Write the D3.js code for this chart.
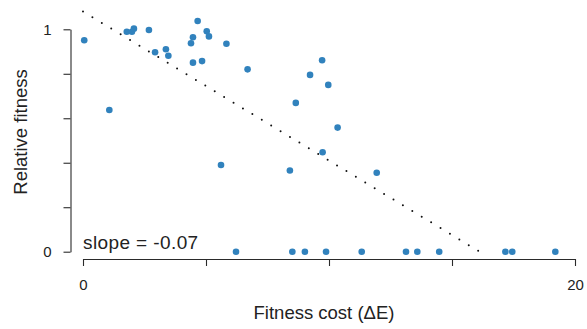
<!DOCTYPE html>
<html>
<head>
<meta charset="utf-8">
<script src="https://cdn.jsdelivr.net/npm/d3@7"></script>
<style>
  html, body { margin: 0; padding: 0; background: #fff; }
  svg { display: block; font-family: "Liberation Sans", Arial, Helvetica, sans-serif; }
</style>
</head>
<body>
<svg id="chart" width="587" height="329"></svg>
<script>
// Fitness cost (ΔE) of each variant and its measured relative fitness
const fitnessCost = [
  0.05, 1.07, 1.78, 1.99, 2.07, 2.68, 2.93, 3.37, 3.47, 4.39,
  4.47, 4.66, 5.03, 5.12, 4.47, 4.84, 5.83, 6.69, 8.65, 5.61,
  8.41, 9.72, 9.23, 9.97, 10.35, 9.74, 11.94,
  6.22, 8.51, 9.02, 9.88, 11.33, 13.13, 13.59, 14.48, 17.17, 17.45, 19.20
];
const relativeFitness = [
  0.951, 0.637, 0.989, 0.989, 1.003, 0.997, 0.897, 0.910, 0.881, 0.937,
  0.964, 1.037, 0.991, 0.968, 0.850, 0.857, 0.935, 0.820, 0.669, 0.390,
  0.365, 0.861, 0.795, 0.750, 0.558, 0.447, 0.355,
  0, 0, 0, 0, 0, 0, 0, 0, 0, 0, 0
];

// Linear fit drawn as a dotted line
const fitIntercept = 1.08;
const fitSlope = -0.067;
const fitRange = [0, 16.4];

// Axis ticks
const xTicks = [0, 5, 10, 15, 20];
const xTickLabels = ["0", "", "", "", "20"];
const yTicks = [0, 0.2, 0.4, 0.6, 0.8, 1];
const yTickLabels = ["0", "", "", "", "", "1"];

const svg = d3.select("#chart");

const x = d3.scaleLinear().domain([0, 20]).range([83, 575]);
const y = d3.scaleLinear().domain([0, 1]).range([251.7, 29.3]);

const axisColor = "#2a2a2a";

// x axis, detached below the plotting region
const xAxisG = svg.append("g")
  .attr("transform", "translate(0,259)")
  .call(d3.axisBottom(x)
    .tickValues(xTicks)
    .tickFormat((d, i) => xTickLabels[i])
    .tickSize(7)
    .tickSizeOuter(0)
    .tickPadding(13));

// y axis, detached left of the plotting region
const yAxisG = svg.append("g")
  .attr("transform", "translate(70.5,0)")
  .call(d3.axisLeft(y)
    .tickValues(yTicks)
    .tickFormat((d, i) => yTickLabels[i])
    .tickSize(7)
    .tickSizeOuter(0)
    .tickPadding(12));

[xAxisG, yAxisG].forEach(g => {
  g.select(".domain").attr("stroke", axisColor).attr("stroke-width", 1.1);
  g.selectAll(".tick line").attr("stroke", axisColor).attr("stroke-width", 1.1);
  g.selectAll(".tick text")
    .attr("fill", "#222")
    .style("font-size", "15px")
    .style("font-family", "\"Liberation Sans\", Arial, sans-serif");
});

// fitted trend line
const fitLine = d3.line()
  .x(d => x(d))
  .y(d => y(fitIntercept + fitSlope * d));

svg.append("path")
  .datum(fitRange)
  .attr("d", fitLine)
  .attr("fill", "none")
  .attr("stroke", "#111")
  .attr("stroke-width", 2)
  .attr("stroke-linecap", "round")
  .attr("stroke-dasharray", "0,11");

// data points
const points = fitnessCost.map((c, i) => ({ c, f: relativeFitness[i] }));
svg.append("g")
  .selectAll("circle")
  .data(points)
  .join("circle")
  .attr("cx", d => x(d.c))
  .attr("cy", d => y(d.f))
  .attr("r", 3.3)
  .attr("fill", "#3182bd");

// slope annotation
svg.append("text")
  .attr("x", 83)
  .attr("y", 249.3)
  .attr("fill", "#222")
  .style("font-size", "19px")
  .style("letter-spacing", "0.4px")
  .text("slope = " + fitSlope.toFixed(2));

// axis titles
svg.append("text")
  .attr("x", 324)
  .attr("y", 319)
  .attr("text-anchor", "middle")
  .attr("fill", "#222")
  .style("font-size", "18.5px")
  .text("Fitness cost (ΔE)");

svg.append("text")
  .attr("transform", "translate(27,132) rotate(-90)")
  .attr("text-anchor", "middle")
  .attr("fill", "#222")
  .style("font-size", "18.5px")
  .text("Relative fitness");
</script>
</body>
</html>
